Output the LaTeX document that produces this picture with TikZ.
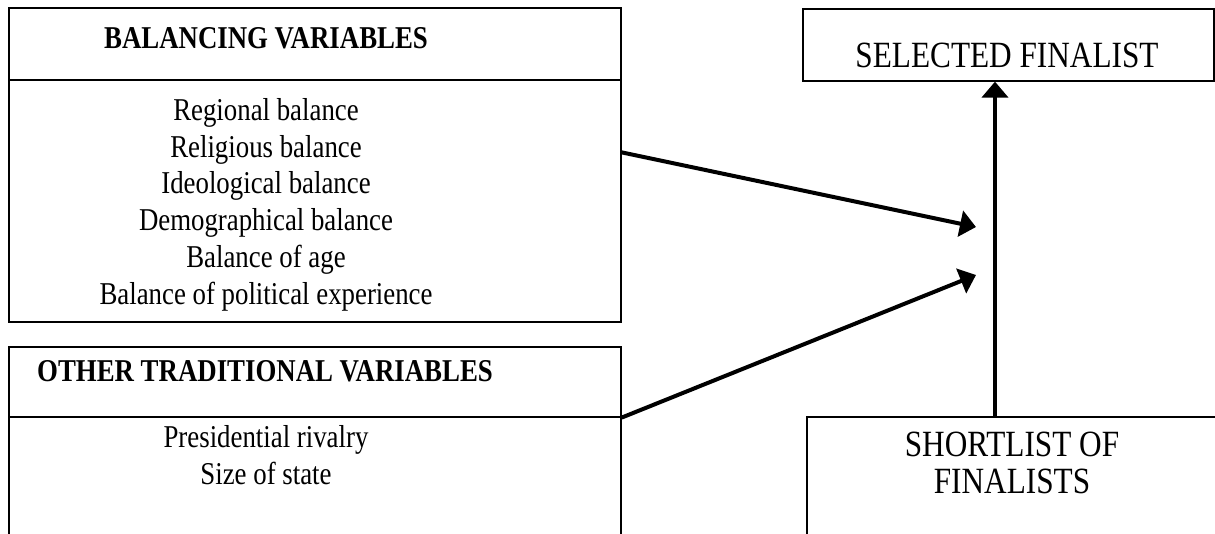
\documentclass[tikz,border=0pt]{standalone}
\usepackage{fontspec}
\setmainfont{Liberation Serif}[FakeStretch=0.845]
\usetikzlibrary{arrows.meta,fit,calc}
\tikzset{
  box/.style={draw, line width=0.5pt, inner sep=0pt},
  txtsmall/.style={font=\fontsize{12.7}{14.7}\selectfont, align=center, anchor=base, inner sep=0pt},
  txtbig/.style={font=\fontsize{14.8}{14.7}\selectfont, align=center, anchor=base, inner sep=0pt},
  arr/.style={-{Triangle[length=6.4pt,width=10.4pt]}, line width=1.6pt},
}
\begin{document}
\begin{tikzpicture}[x=0.4pt,y=-0.4pt]
    \useasboundingbox (0,0) rectangle (1215,534);
    \clip (0,0) rectangle (1215,534);
    % boxes
    \node[box, fit={(9,8) (621,80)}]     (balhead) {};
    \node[box, fit={(9,80) (621,322)}]   (balbody) {};
    \node[box, fit={(9,347) (621,417)}]  (othhead) {};
    \node[box, fit={(9,417) (621,560)}]  (othbody) {};
    \node[box, fit={(803,9) (1214,81)}]  (select)  {};
    \node[box, fit={(807,417) (1240,560)}] (short) {};
    % texts (base = last line)
    \node[txtsmall] (baltitle) at (266,48) {\bfseries BALANCING VARIABLES};
    \node[txtsmall] (ballist)  at (266,304) {Regional balance\\Religious balance\\Ideological balance\\Demographical balance\\Balance of age\\Balance of political experience};
    \node[txtsmall] (othtitle) at (265,381) {\bfseries OTHER TRADITIONAL VARIABLES};
    \node[txtsmall] (othlist)  at (266,484) {Presidential rivalry\\Size of state};
    \node[txtbig]   (seltext)  at (1007,67) {SELECTED FINALIST};
    \node[txtbig]   (shorttext) at (1012,493) {SHORTLIST OF\\FINALISTS};
    % connectors
    \coordinate (in1) at (976,227);
    \coordinate (in2) at (976,275);
    \coordinate (upx) at (995,0);
    \draw[arr] ($(balbody.north east)!0.3!(balbody.south east)$) -- (in1);
    \draw[arr] (othhead.south east) -- (in2);
    \draw[arr] (upx |- short.north) -- (upx |- select.south);
\end{tikzpicture}
\end{document}
